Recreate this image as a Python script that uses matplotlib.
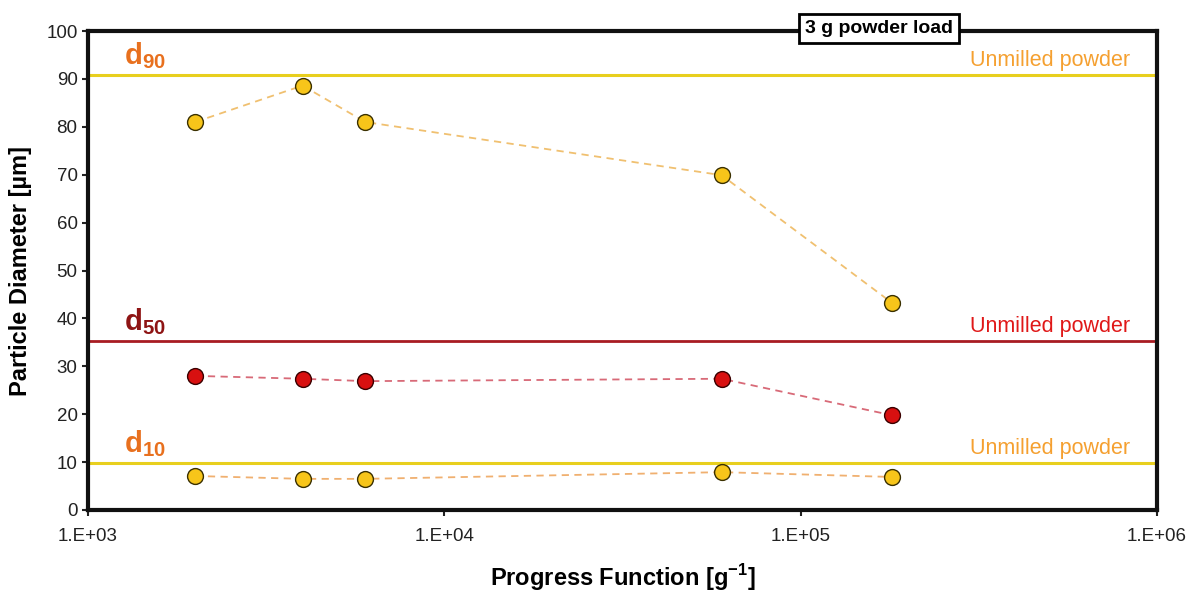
import matplotlib.pyplot as plt
from matplotlib.ticker import FixedLocator, NullLocator

progress = [2000, 4000, 6000, 60000, 180000]
d90 = [81.0, 88.6, 81.0, 69.9, 43.3]
d50 = [28.0, 27.4, 26.9, 27.4, 19.8]
d10 = [7.1, 6.5, 6.5, 7.9, 6.9]
unmilled = {"d90": 90.8, "d50": 35.3, "d10": 9.8}
x_ticks = [1e3, 1e4, 1e5, 1e6]
x_tick_labels = ["1.E+03", "1.E+04", "1.E+05", "1.E+06"]

plt.rcParams["font.family"] = ["Liberation Sans", "DejaVu Sans"]
plt.rcParams["mathtext.fontset"] = "custom"
plt.rcParams["mathtext.rm"] = "Liberation Sans"
plt.rcParams["mathtext.bf"] = "Liberation Sans:bold"

fig = plt.figure(figsize=(11.87, 5.91), dpi=100)
ax = fig.add_axes([88 / 1187, 81 / 591, 1069 / 1187, 479 / 591])

yellow_line = "#e8cf1e"
red_line = "#a81c22"

ax.axhline(unmilled["d90"], color=yellow_line, lw=2.2, zorder=1)
ax.axhline(unmilled["d50"], color=red_line, lw=2.0, zorder=1)
ax.axhline(unmilled["d10"], color=yellow_line, lw=2.2, zorder=1)

ax.plot(progress, d90, ls=(0, (4, 3)), color="#f0c070", lw=1.3, zorder=2)
ax.plot(progress, d50, ls=(0, (4, 3)), color="#d86a78", lw=1.3, zorder=2)
ax.plot(progress, d10, ls=(0, (4, 3)), color="#f0b070", lw=1.3, zorder=2)

ax.scatter(progress, d90, s=130, c="#f7c51a", edgecolors="#3a3000", linewidths=1.0, zorder=3)
ax.scatter(progress, d50, s=130, c="#d81010", edgecolors="#3a0000", linewidths=1.0, zorder=3)
ax.scatter(progress, d10, s=130, c="#f7c51a", edgecolors="#3a3000", linewidths=1.0, zorder=3)

ax.set_xscale("log")
ax.set_xlim(1e3, 1e6)
ax.set_ylim(0, 100)
ax.xaxis.set_major_locator(FixedLocator(x_ticks))
ax.xaxis.set_minor_locator(NullLocator())
ax.set_xticklabels(x_tick_labels)
ax.set_yticks(range(0, 101, 10))
ax.tick_params(axis="both", labelsize=13.5, colors="#222222", width=1.5, length=4)
ax.tick_params(axis="x", pad=9)

for s in ax.spines.values():
    s.set_linewidth(3)
    s.set_color("#111111")

ax.set_xlabel("Progress Function [g$^{\\mathbf{-1}}$]", fontsize=17, fontweight="bold", labelpad=12)
ax.set_ylabel("Particle Diameter [µm]", fontsize=17, fontweight="bold", labelpad=10)

yt = ax.get_yaxis_transform()
ax.text(0.034, 91.6, "d$_{\\mathbf{90}}$", transform=yt, fontsize=21,
        fontweight="bold", color="#e8701e", va="bottom")
ax.text(0.034, 36.1, "d$_{\\mathbf{50}}$", transform=yt, fontsize=21,
        fontweight="bold", color="#8e1414", va="bottom")
ax.text(0.034, 10.6, "d$_{\\mathbf{10}}$", transform=yt, fontsize=21,
        fontweight="bold", color="#e8701e", va="bottom")

ax.text(0.975, 91.6, "Unmilled powder", transform=yt, fontsize=15.5,
        color="#f5a030", ha="right", va="bottom")
ax.text(0.975, 36.1, "Unmilled powder", transform=yt, fontsize=15.5,
        color="#e01818", ha="right", va="bottom")
ax.text(0.975, 10.6, "Unmilled powder", transform=yt, fontsize=15.5,
        color="#f5a030", ha="right", va="bottom")

ax.text(0.74, 1.005, "3 g powder load", transform=ax.transAxes, fontsize=14, fontweight="bold",
        ha="center", va="center",
        bbox=dict(boxstyle="square,pad=0.3", fc="white", ec="black", lw=2), zorder=5)

fig.savefig("out.png", dpi=100)
